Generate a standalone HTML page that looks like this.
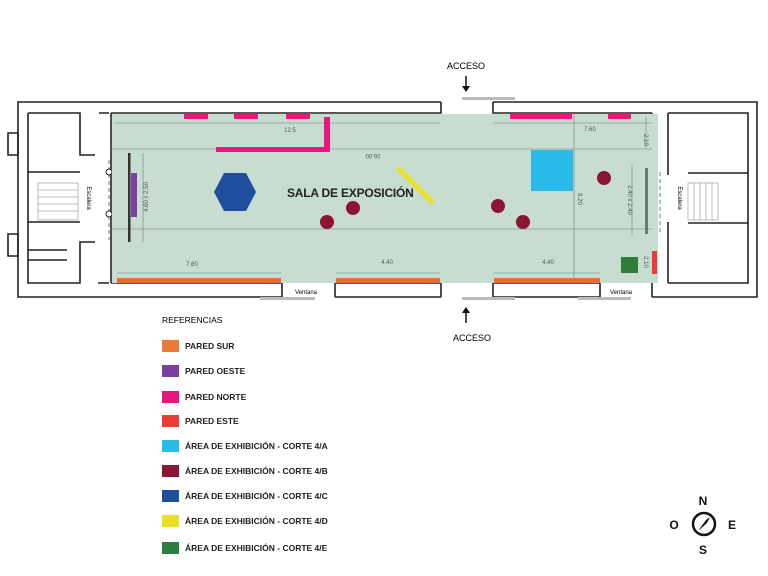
<!DOCTYPE html>
<html><head><meta charset="utf-8"><style>body{margin:0;background:#fff}svg{display:block}</style></head><body>
<svg width="768" height="576" viewBox="0 0 768 576" xmlns="http://www.w3.org/2000/svg" font-family="Liberation Sans, sans-serif">
<rect width="768" height="576" fill="#fff"/>
<g fill="none" stroke="#222" stroke-width="1.6">
<path d="M441 102 H18 V297 H282"/>
<path d="M493 102 H757 V297 H652"/>
<path d="M335 297 H441 M493 297 H600"/>
<path d="M111 113 H441 V102 M493 102 V113 H652"/>
<path d="M111 283 H282 V297 M335 297 V283 H441 V297 M493 297 V283 H600 V297 M652 297 V283"/>
<path d="M111 113 V283 M652 113 V283"/>
<path d="M28 113 H80 V155 H95 M28 113 V283 H80 V242 H95 M99 113 H109 M98 283 H109"/>
<path d="M28 172 H80 M28 222 H80 M28 250 H67 M28 260 H67"/>
<path d="M8 133 H18 V155 H8Z M8 234 H18 V256 H8Z"/>
<path d="M668 113 H748 V283 H668 M668 113 V175 M668 222 V283 M688 173 H748 M688 223 H748"/>
</g>
<g stroke="#aaa" stroke-width="0.8" fill="none">
<rect x="38" y="183" width="40" height="37"/>
<path d="M38 190H78M38 197H78M38 204H78M38 211H78"/>
<rect x="688" y="183" width="30" height="37"/>
<path d="M694 183V220M700 183V220M706 183V220M712 183V220"/>
</g>
<g stroke="#555" stroke-width="0.8" stroke-dasharray="4,3"><path d="M109 160V240M660 172V232"/></g>
<circle cx="109" cy="172" r="3" fill="#fff" stroke="#222"/><circle cx="109" cy="214" r="3" fill="#fff" stroke="#222"/>
<text transform="translate(87,198) rotate(90)" font-size="6" text-anchor="middle">Escalera</text>
<text transform="translate(678,198) rotate(90)" font-size="6" text-anchor="middle">Escalera</text>
<rect x="112" y="114" width="546" height="169" fill="#c6ddd0"/>
<g stroke="#778" stroke-width="0.6">
<path d="M115 123H440M493 123H652M111 149H652M111 229H652M574 113V283M117 273H281M336 273H440M494 273H600M143 153V242M632 165V235M646 117V148"/>
</g>
<g font-size="6" fill="#555" text-anchor="middle">
<text x="290" y="132">12.5</text><text x="590" y="131">7.60</text>
<text transform="translate(373,154) rotate(180)">26.00</text>
<text transform="translate(578,199) rotate(90)">8.20</text>
<text x="192" y="266">7.60</text><text x="387" y="264">4.40</text><text x="548" y="264">4.40</text>
<text transform="translate(644,140) rotate(90)">2.10</text>
<text transform="translate(628,200) rotate(90)">2.40 x 2.40</text>
<text transform="translate(148,197) rotate(-90)">4.60 x 2.50</text>
<text transform="translate(644,262) rotate(90)">2.10</text>
</g>
<rect x="128" y="153" width="2.5" height="89" fill="#333"/>
<rect x="645" y="168" width="3" height="66" fill="#6a7a70"/>
<g fill="#e8177d">
<rect x="184" y="114" width="24" height="5"/><rect x="234" y="114" width="24" height="5"/><rect x="286" y="114" width="24" height="5"/>
<rect x="510" y="114" width="62" height="5"/><rect x="608" y="114" width="23" height="5"/>
<rect x="216" y="147" width="114" height="5"/><rect x="324" y="117" width="6" height="35"/>
</g>
<rect x="131" y="173" width="6" height="44" fill="#7b3fa0"/>
<polygon points="214,192 224,173 246,173 256,192 246,211 224,211" fill="#1f4e9c"/>
<g fill="#8b1535"><circle cx="353" cy="208" r="7"/><circle cx="327" cy="222" r="7"/><circle cx="498" cy="206" r="7"/><circle cx="523" cy="222" r="7"/><circle cx="604" cy="178" r="7"/></g>
<rect x="531" y="150" width="42" height="41" fill="#2bbbea"/>
<line x1="398" y1="168" x2="433" y2="203" stroke="#ecdf2a" stroke-width="5"/>
<rect x="621" y="257" width="17" height="16" fill="#2e7d3a"/>
<rect x="652" y="251" width="5" height="23" fill="#ef3b36"/>
<g fill="#ee6a2c"><rect x="117" y="278" width="164" height="5"/><rect x="336" y="278" width="104" height="5"/><rect x="494" y="278" width="106" height="5"/></g>
<text x="287" y="197" font-size="12" font-weight="bold" fill="#222" letter-spacing="-0.2">SALA DE EXPOSICIÓN</text>
<g fill="#bbb"><rect x="260" y="297" width="55" height="3"/><rect x="462" y="97" width="53" height="3"/><rect x="462" y="297" width="53" height="3"/><rect x="578" y="297" width="53" height="3"/></g>
<text x="306" y="294" font-size="6" text-anchor="middle">Ventana</text>
<text x="621" y="294" font-size="6" text-anchor="middle">Ventana</text>
<text x="466" y="69" font-size="9" text-anchor="middle">ACCESO</text>
<path d="M466 76V87" stroke="#111" stroke-width="1.5"/><path d="M462 86L466 92L470 86Z" fill="#111"/>
<path d="M466 312V323" stroke="#111" stroke-width="1.5"/><path d="M462 313L466 307L470 313Z" fill="#111"/>
<text x="472" y="341" font-size="9" text-anchor="middle">ACCESO</text>
<text x="162" y="323" font-size="8.5">REFERENCIAS</text>
<g font-size="8.5" font-weight="bold" fill="#222">
<rect x="162" y="340" width="17" height="12" fill="#ee7a3a"/><text x="185" y="349">PARED SUR</text>
<rect x="162" y="365" width="17" height="12" fill="#7b3fa0"/><text x="185" y="374">PARED OESTE</text>
<rect x="162" y="391" width="17" height="12" fill="#e8177d"/><text x="185" y="400">PARED NORTE</text>
<rect x="162" y="415" width="17" height="12" fill="#ef3b36"/><text x="185" y="424">PARED ESTE</text>
<rect x="162" y="440" width="17" height="12" fill="#2bbbea"/><text x="185" y="449">ÁREA DE EXHIBICIÓN - CORTE 4/A</text>
<rect x="162" y="465" width="17" height="12" fill="#8b1535"/><text x="185" y="474">ÁREA DE EXHIBICIÓN - CORTE 4/B</text>
<rect x="162" y="490" width="17" height="12" fill="#1f4e9c"/><text x="185" y="499">ÁREA DE EXHIBICIÓN - CORTE 4/C</text>
<rect x="162" y="515" width="17" height="12" fill="#ecdf2a"/><text x="185" y="524">ÁREA DE EXHIBICIÓN - CORTE 4/D</text>
<rect x="162" y="542" width="17" height="12" fill="#2e7d3a"/><text x="185" y="551">ÁREA DE EXHIBICIÓN - CORTE 4/E</text>
</g>
<g font-size="12" font-weight="bold" text-anchor="middle" fill="#111">
<text x="703" y="505">N</text><text x="674" y="529">O</text><text x="732" y="529">E</text><text x="703" y="554">S</text>
</g>
<circle cx="704" cy="524" r="11" fill="none" stroke="#111" stroke-width="2.5"/>
<path d="M698 531L706 520L710 517L707 523Z" fill="#111"/>
</svg>
</body></html>
